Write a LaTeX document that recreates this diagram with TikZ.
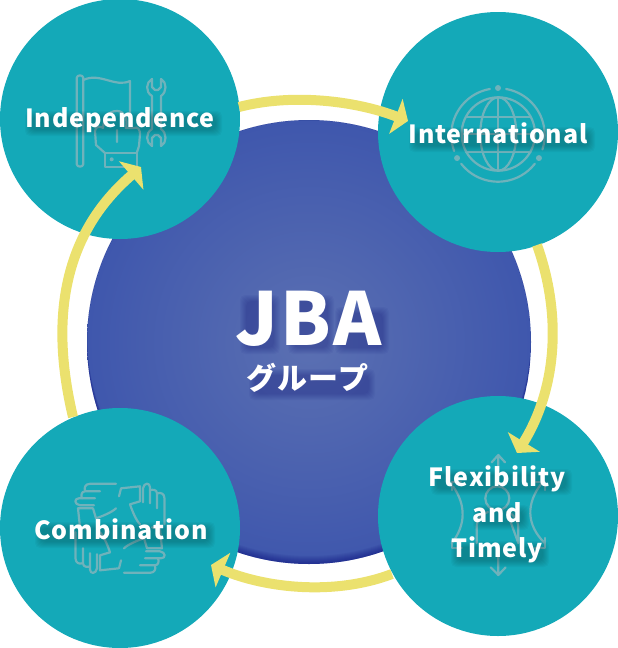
\documentclass[tikz,border=0pt]{standalone}
\usepackage{fontspec}
\usetikzlibrary{arrows.meta,calc}
\newfontfamily\lblfont{Noto Sans CJK JP}[LetterSpace=3.6]
\newfontfamily\bigfont{Noto Sans CJK JP}[LetterSpace=3]
\newfontfamily\subfont{Noto Sans CJK JP}[LetterSpace=4]
\definecolor{teal1}{HTML}{14A9B8}
\definecolor{yel}{HTML}{EBE16E}
\definecolor{icn}{HTML}{6FB2BB}
\definecolor{blueedge}{HTML}{3F57AD}
\definecolor{bluemid}{HTML}{5B70B2}
\tikzset{
 tealdisc/.style={fill=teal1,draw=none},
 ringarrow/.style={draw=yel,line width=10pt,-{Triangle[length=13pt,width=37pt,fill=yel]}},
 iconline/.style={draw=icn,line width=2.2pt,line cap=round,line join=round,fill=none},
 iconfill/.style={fill=icn,draw=none},
 lbl/.style={font=\lblfont\bfseries\fontsize{25}{35.5}\selectfont,text=white,anchor=base,align=center,inner sep=0pt},
 jba/.style={font=\bigfont\bfseries\fontsize{73}{80}\selectfont,text=white,anchor=base,inner sep=0pt},
 jbasub/.style={font=\subfont\bfseries\fontsize{30}{32}\selectfont,text=white,anchor=base,inner sep=0pt},
}
% soft shadow patch: stacked faint rounded rectangles
\newcommand{\softband}[5]{% colour, x1,y1,x2,y2
  \foreach \i in {-3,-2,...,3}{
    \fill[#1,opacity=.04,rounded corners=5pt] (#2-\i,#3-\i) rectangle (#4+\i,#5+\i);}}
\begin{document}
\begin{tikzpicture}[x=1pt,y=-1pt]
\useasboundingbox (0,0) rectangle (618,648);
% central disc
\coordinate (c) at (309,342);
\shade[inner color=bluemid,outer color=blueedge] (c) circle[radius=222pt];
\begin{scope}
  \clip (c) circle[radius=222pt];
  \foreach \s in {1,2,...,8}{
    \fill[even odd rule,fill=black!55!blue,opacity=.06] (c) circle[radius=222pt] ($(c)+(0,-\s)$) circle[radius=222pt];}
\end{scope}
% discs
\coordinate (tl) at (120,119);\coordinate (tr) at (498,132);\coordinate (br) at (498,516);\coordinate (bl) at (120,528);
\fill[tealdisc] (tl) circle[radius=120pt];
\fill[tealdisc] (tr) circle[radius=120pt];
\fill[tealdisc] (br) circle[radius=120pt];
\fill[tealdisc] (bl) circle[radius=120pt];
% icon: independence
\draw[iconline] (76.7,78) .. controls (76.7,74.5) and (83.3,74.5) .. (83.3,78) -- (83.3,164) .. controls (83.3,167.5) and (76.7,167.5) .. (76.7,164) -- cycle;
\draw[iconline] (83.3,80) .. controls (100,72) and (115,88) .. (130,81) -- (130,128);
\draw[iconline] (95,131) .. controls (95,126) and (101,126) .. (103,128) .. controls (104,118) and (108,111) .. (117,111) .. controls (124,111) and (128,118) .. (126,128) -- (134,128) .. controls (138,126) and (140,130) .. (140,134) -- (139,146) -- (136.7,153) (95,131) -- (96,145) -- (105,153) (117,130) -- (117,142);
\draw[iconline] (105,153.3) rectangle (136.7,166.7);
\fill[iconfill] (111.7,159.3) circle[radius=2pt];
\draw[iconline] (152,79) .. controls (146,82) and (145,92) .. (152,96) -- (152,129) .. controls (145,133) and (146,143) .. (152,146) (152,79) -- (152,87) -- (155,90) -- (158,90) -- (161,87) -- (161,79) .. controls (167,82) and (167,92) .. (161,96) -- (161,129) .. controls (167,133) and (167,143) .. (161,146) -- (161,138) -- (158,135) -- (155,135) -- (152,138) -- (152,146);
% icon: globe
\coordinate (g) at (498.3,134);
\coordinate (gr) at (498,135);
\draw[iconline] (g) circle[radius=36.7pt];
\draw[iconline] (g) ellipse[x radius=18pt,y radius=36.7pt];
\draw[iconline] (498.3,97.3) -- (498.3,170.7);
\draw[iconline] (466,116.7) -- (530.6,116.7) (461.6,134) -- (535,134) (466,151.7) -- (530.6,151.7);
\draw[iconline] ([shift={(100:46.7pt)}]gr) arc[start angle=100,end angle=200,radius=46.7pt];
\draw[iconline] ([shift={(80:46.7pt)}]gr) arc[start angle=80,end angle=-18,radius=46.7pt];
\draw[iconline] ([shift={(218:46.7pt)}]gr) arc[start angle=218,end angle=322,radius=46.7pt];
\fill[iconfill] ([shift={(90:47pt)}]gr) circle[radius=3pt];
\fill[iconfill] ([shift={(209.4:47pt)}]gr) circle[radius=3pt];
\fill[iconfill] ([shift={(330.6:47pt)}]gr) circle[radius=3pt];
% icon: flexibility
\draw[iconline] (498.3,455) -- (498.3,478) (491.7,462.3) -- (498.3,455) -- (505,462.3);
\draw[iconline] (498.3,575) -- (498.3,555) (490.7,567.3) -- (498.3,575) -- (505.7,567.3);
\draw[iconline] (497.3,498.3) circle[radius=12pt];
\draw[iconline] (476.7,543) -- (476.7,528) .. controls (476.7,518) and (482,514) .. (488,512) (507,512) .. controls (514,514) and (518.3,520) .. (518.3,528) -- (518.3,543) -- cycle;
\draw[iconline] (453.3,486.7) .. controls (466,505) and (466,525) .. (451.7,543.3);
\draw[iconline] (541.7,483.3) .. controls (526,503) and (526,525) .. (545,543.3);
\draw[iconline] (451.7,490) -- (451.7,482) -- (461,482) (545,490) -- (545,482) -- (536,482);
\draw[iconline] (451.7,541) -- (451.7,548.3) -- (461.7,548.3) (545,538) -- (545,548.3) -- (535,548.3);
% icon: combination (four clasped hands)
\coordinate (h) at (120,528.3);
\foreach \r in {0,90,180,270}{
\begin{scope}[shift={(h)},rotate=\r]
 \draw[iconline] (1,-40) -- (20,-42) -- (20,-27) -- (10,-24) (1,-40) -- (-1,-32);
 \draw[iconline] (23,-40) -- (23,-26) (23,-40) .. controls (24,-46) and (30,-46) .. (30,-41) -- (30,-25);
 \draw[iconline] (30,-38) .. controls (32,-39) and (37,-39) .. (37,-35) -- (37,-20);
 \draw[iconline] (38,-35) .. controls (40,-36) and (44.5,-35) .. (44.5,-30) -- (44.5,-4);
 \draw[iconline] (10,-24) .. controls (12,-18) and (16,-8) .. (20,-4);
\end{scope}}
% arrows
\coordinate (a1s) at (239,107); \coordinate (a1e) at (408,121);
\coordinate (a2s) at (537,245); \coordinate (a2e) at (517,453);
\coordinate (a3s) at (392,574); \coordinate (a3e) at (211,565);
\coordinate (a4s) at (73,417);  \coordinate (a4e) at (141,167);
\draw[ringarrow] (a1s) .. controls (293,93) and (356,101) .. (a1e);
\draw[ringarrow] (a2s) .. controls (562,315) and (557,388) .. (a2e);
\draw[ringarrow] (a3s) .. controls (334,596) and (265,588) .. (a3e);
\draw[ringarrow] (a4s) .. controls (50,320) and (62,235) .. (a4e);
% label shadows
\softband{black!70!teal}{28}{114}{219}{133}
\softband{black!70!teal}{412}{130}{592}{149}
\softband{black!70!teal}{38}{525}{212}{545}
\softband{black!70!teal}{434}{472}{569}{492}
\softband{black!70!teal}{476}{508}{526}{527}
\softband{black!70!teal}{454}{544}{546}{564}
\softband{black!60!blue}{243}{298}{277}{351}
\softband{black!60!blue}{291}{298}{331}{351}
\softband{black!60!blue}{338}{310}{386}{351}
\softband{black!60!blue}{252}{372}{372}{397}
% labels
\node[lbl] (lindep) at (120,127.3) {Independence};
\node[lbl] (lintl) at (498,143.3) {International};
\node[lbl] (lflex) at (497,557.7) {Flexibility\\and\\Timely};
\node[lbl] (lcomb) at (121,539) {Combination};
\node[jba] (ljba) at (309,345) {JBA};
\node[jbasub] (lgrp) at (307.5,389) {グループ};
\end{tikzpicture}
\end{document}
